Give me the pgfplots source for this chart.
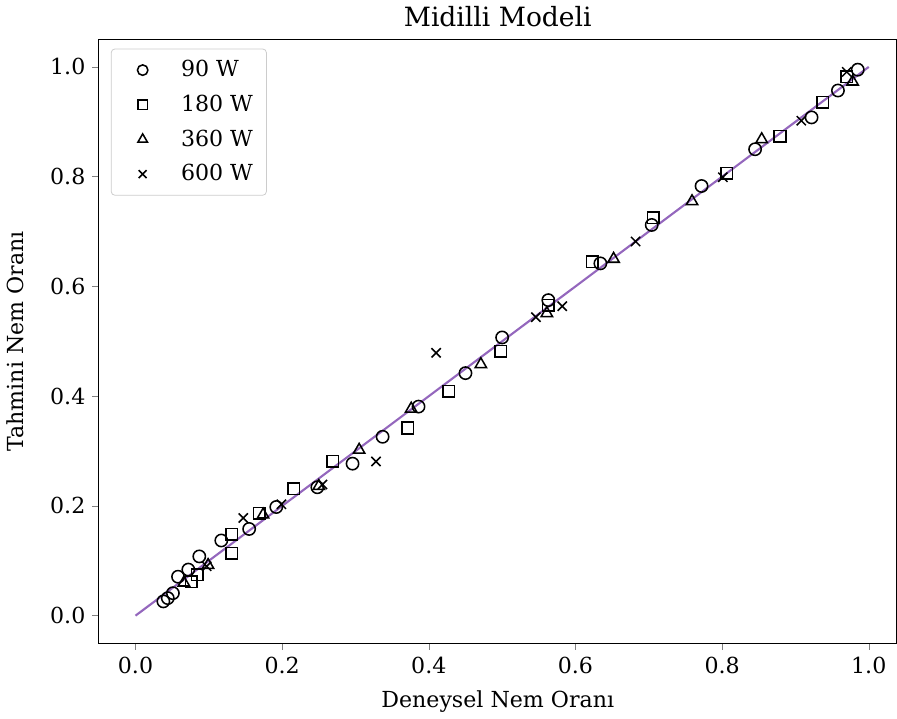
\documentclass[border=0pt]{standalone}
\usepackage{fontspec}
\setmainfont{DejaVu Serif}
\usepackage{pgfplots}
\pgfplotsset{compat=1.18}
\definecolor{linepurple}{HTML}{9467BD}
\begin{document}
\begin{tikzpicture}
\begin{axis}[
  scale only axis,
  width=415pt, height=314pt,
  xmin=-0.05, xmax=1.038, ymin=-0.05, ymax=1.05,
  xtick={0,0.2,0.4,0.6,0.8,1.0},
  ytick={0,0.2,0.4,0.6,0.8,1.0},
  tick align=outside, tick pos=left,
  major tick length=3.5pt,
  /pgf/number format/.cd, fixed, fixed zerofill, precision=1, assume math mode=true,
  /pgfplots/.cd,
  tick label style={font=\fontsize{11.5}{13}\selectfont},
  title={Midilli Modeli},
  title style={font=\fontsize{13.8}{16}\selectfont, yshift=-3pt},
  xlabel={Deneysel Nem Oranı},
  ylabel={Tahmini Nem Oranı},
  label style={font=\fontsize{11.5}{13}\selectfont},
  ylabel style={yshift=7pt},
  xlabel style={yshift=-2pt},
  legend cell align=left,
  legend style={font=\fontsize{11.5}{13}\selectfont, draw=black!20, rounded corners=2pt, inner xsep=5pt, inner ysep=4pt, row sep=4pt, at={(0.015,0.985)}, anchor=north west,
    /tikz/every odd column/.append style={column sep=8pt}},
  legend image code/.code={\path[draw=none,fill=none] (0cm,0cm) -- (0.75cm,0cm); \draw[mark options={scale=0.85, solid, line width=0.8pt}] plot coordinates {(0.4cm,0cm)};},
  every axis plot/.append style={only marks, mark options={solid, line width=0.8pt}},
]
\addplot[black, mark=o, mark size=3.2pt] coordinates {
(0.038,0.026) (0.044,0.032) (0.051,0.041) (0.058,0.071) (0.072,0.084) (0.087,0.108)
(0.117,0.137) (0.155,0.158) (0.192,0.198) (0.248,0.234) (0.296,0.277) (0.337,0.326)
(0.386,0.381) (0.450,0.442) (0.500,0.507) (0.563,0.575) (0.634,0.642) (0.704,0.712)
(0.772,0.783) (0.845,0.850) (0.922,0.908) (0.958,0.957) (0.985,0.995)
};
\addlegendentry{90 W}
\addplot[black, mark=square, mark size=3.0pt] coordinates {
(0.076,0.062) (0.084,0.075) (0.131,0.114) (0.131,0.148) (0.169,0.187) (0.216,0.231)
(0.269,0.281) (0.371,0.342) (0.427,0.409) (0.498,0.482) (0.563,0.566) (0.623,0.645)
(0.706,0.725) (0.806,0.806) (0.879,0.874) (0.937,0.936) (0.970,0.982)
};
\addlegendentry{180 W}
\addplot[black, mark=triangle, mark size=3.4pt] coordinates {
(0.066,0.060) (0.099,0.092) (0.174,0.184) (0.250,0.236) (0.305,0.302) (0.376,0.377)
(0.471,0.458) (0.561,0.551) (0.652,0.650) (0.759,0.755) (0.854,0.868) (0.978,0.973)
};
\addlegendentry{360 W}
\addplot[black, mark=x, mark size=3.4pt] coordinates {
(0.097,0.090) (0.147,0.178) (0.199,0.203) (0.255,0.239) (0.328,0.281) (0.410,0.479)
(0.546,0.544) (0.582,0.564) (0.682,0.682) (0.801,0.799) (0.908,0.902) (0.970,0.991)
};
\addlegendentry{600 W}
\addplot[linepurple, no marks, sharp plot, line width=1.1pt, forget plot] coordinates {(0,0) (1,1)};
\end{axis}
\end{tikzpicture}
\end{document}
